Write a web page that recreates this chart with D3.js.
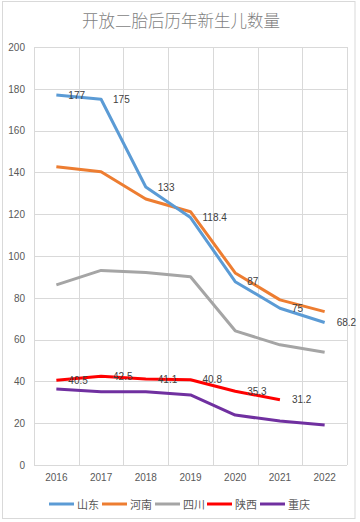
<!DOCTYPE html>
<html><head><meta charset="utf-8">
<script src="https://cdn.jsdelivr.net/npm/d3@7/dist/d3.min.js"></script>
<style>body{margin:0;background:#fff}svg{display:block}</style>
</head><body><svg id="c" width="360" height="522"></svg>
<script>
const years = ["2016","2017","2018","2019","2020","2021","2022"];
const seriesNames = ["山东","河南","四川","陕西","重庆"];
const colors = ["#5B9BD5","#ED7D31","#A5A5A5","#FF0000","#7030A0"];
const shandong = [177,175,133,118.4,87.7,75,68.2];
const henan = [142.7,140.3,127.3,121.2,91.9,79,73.4];
const sichuan = [86.2,93.1,92.1,90.1,64.2,57.5,53.9];
const shaanxi = [40.5,42.5,41.1,40.8,35.3,31.2];
const chongqing = [36.4,35.1,35.1,33.5,23.9,21.0,19.1];
const shandongLabels = ["177","175","133","118.4","87","75","68.2"];
const shaanxiLabels = ["40.5","42.5","41.1","40.8","35.3","31.2"];
const yTicks = [0,20,40,60,80,100,120,140,160,180,200];
const title = "开放二胎后历年新生儿数量";

const svg = d3.select("#c");
svg.append("rect").attr("x",2.5).attr("y",1.5).attr("width",352.5).attr("height",517)
  .attr("fill","#fff").attr("stroke","#d9d9d9");

const x = d3.scaleBand().domain(years).range([34,347]);
const y = d3.scaleLinear().domain([0,200]).range([465,47]);
const cx = d => x(d) + x.bandwidth()/2;

// gridlines
const g = svg.append("g");
g.selectAll("line.h").data(yTicks).join("line")
  .attr("x1",34).attr("x2",347).attr("y1",d=>Math.round(y(d))+0.5).attr("y2",d=>Math.round(y(d))+0.5)
  .attr("stroke","#d9d9d9");
const vb = years.map(d=>x(d)).concat([347]);
g.selectAll("line.v").data(vb).join("line")
  .attr("x1",d=>Math.round(d)+0.5).attr("x2",d=>Math.round(d)+0.5).attr("y1",47).attr("y2",465)
  .attr("stroke","#d9d9d9");

// axes text
const yAxis = d3.axisLeft(y).tickValues(yTicks).tickSize(0).tickPadding(0);
const ya = svg.append("g").attr("transform","translate(25,0)").call(yAxis);
ya.select(".domain").remove();
ya.selectAll("text").attr("fill","#595959").style("font-family","'Liberation Sans',Arial,sans-serif").style("font-size","10px");

const xAxis = d3.axisBottom(x).tickSize(0).tickPadding(0);
const xa = svg.append("g").attr("transform","translate(0,474)").call(xAxis);
xa.select(".domain").remove();
xa.selectAll("text").attr("fill","#595959").style("font-family","'Liberation Sans',Arial,sans-serif").style("font-size","10px");

// title
svg.append("text").attr("x",181).attr("y",27).attr("text-anchor","middle")
  .attr("fill","#7f7f7f").style("font-family","'Noto Sans CJK SC',sans-serif").style("font-size","16.5px")
  .style("font-weight","300").text(title);

// lines
const data = [shandong,henan,sichuan,shaanxi,chongqing];
const line = d3.line().x((d,i)=>cx(years[i])).y(d=>y(d));
const order = [4,3,2,1,0];
order.forEach(k=>{
  svg.append("path").datum(data[k]).attr("d",line).attr("fill","none")
    .attr("stroke",colors[k]).attr("stroke-width",3).attr("stroke-linejoin","round").attr("stroke-linecap","butt");
});

// data labels
function labels(vals, labs){
  svg.append("g").selectAll("text").data(vals).join("text")
    .attr("x",(d,i)=>cx(years[i])+12).attr("y",(d,i)=>y(d)+3.5)
    .attr("fill","#404040").style("font-family","'Liberation Sans',Arial,sans-serif").style("font-size","10px")
    .text((d,i)=>labs[i]);
}
labels(shandong, shandongLabels);
labels(shaanxi, shaanxiLabels);

// legend
const legX = [49,102,155,207,260];
const lg = svg.append("g");
seriesNames.forEach((n,i)=>{
  lg.append("line").attr("x1",legX[i]).attr("x2",legX[i]+25).attr("y1",504).attr("y2",504)
    .attr("stroke",colors[i]).attr("stroke-width",3);
  lg.append("text").attr("x",legX[i]+28).attr("y",508.5).attr("fill","#595959")
    .style("font-family","'Noto Sans CJK SC',sans-serif").style("font-size","11px").text(n);
});
</script></body></html>
